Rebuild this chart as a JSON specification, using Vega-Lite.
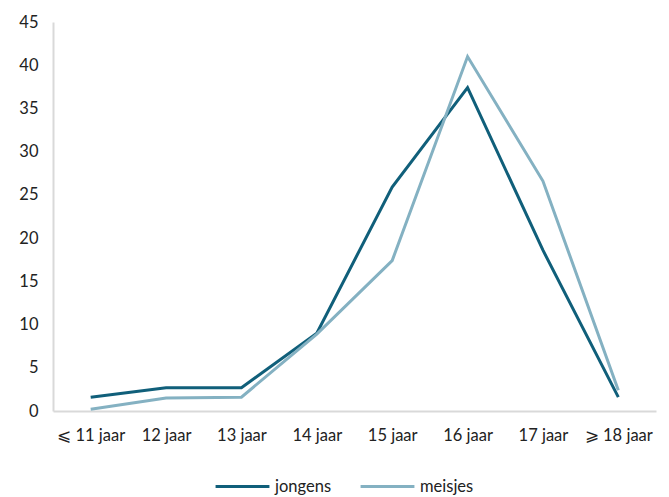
{
  "$schema": "https://vega.github.io/schema/vega-lite/v6.json",
  "width": 603,
  "height": 389,
  "autosize": {"type": "none"},
  "padding": {"left": 53, "top": 22, "right": 13, "bottom": 86},
  "background": "white",
  "config": {
    "view": {"stroke": null},
    "font": "Lato",
    "axis": {"grid": false, "ticks": false, "domainColor": "#d9d9d9", "domainWidth": 2, "labelFontSize": 16.5, "labelColor": "#222222", "title": null},
    "legend": {"labelFontSize": 16.5, "labelColor": "#222222"}
  },
  "data": {"values": [
    {"leeftijd": "⩽ 11 jaar", "groep": "jongens", "waarde": 1.6},
    {"leeftijd": "12 jaar", "groep": "jongens", "waarde": 2.7},
    {"leeftijd": "13 jaar", "groep": "jongens", "waarde": 2.7},
    {"leeftijd": "14 jaar", "groep": "jongens", "waarde": 9.0},
    {"leeftijd": "15 jaar", "groep": "jongens", "waarde": 25.9},
    {"leeftijd": "16 jaar", "groep": "jongens", "waarde": 37.4},
    {"leeftijd": "17 jaar", "groep": "jongens", "waarde": 18.6},
    {"leeftijd": "⩾ 18 jaar", "groep": "jongens", "waarde": 1.6},
    {"leeftijd": "⩽ 11 jaar", "groep": "meisjes", "waarde": 0.2},
    {"leeftijd": "12 jaar", "groep": "meisjes", "waarde": 1.5},
    {"leeftijd": "13 jaar", "groep": "meisjes", "waarde": 1.6},
    {"leeftijd": "14 jaar", "groep": "meisjes", "waarde": 8.9},
    {"leeftijd": "15 jaar", "groep": "meisjes", "waarde": 17.4},
    {"leeftijd": "16 jaar", "groep": "meisjes", "waarde": 41.0},
    {"leeftijd": "17 jaar", "groep": "meisjes", "waarde": 26.6},
    {"leeftijd": "⩾ 18 jaar", "groep": "meisjes", "waarde": 2.4}
  ]},
  "mark": {"type": "line", "strokeWidth": 3, "strokeJoin": "miter"},
  "encoding": {
    "x": {"field": "leeftijd", "type": "ordinal", "sort": null,
      "scale": {"type": "point", "padding": 0.5},
      "axis": {"labelAngle": 0, "labelPadding": 16}},
    "y": {"field": "waarde", "type": "quantitative",
      "scale": {"domain": [0, 45], "nice": false},
      "axis": {"values": [0, 5, 10, 15, 20, 25, 30, 35, 40, 45], "labelPadding": 15}},
    "color": {"field": "groep", "type": "nominal",
      "scale": {"domain": ["jongens", "meisjes"], "range": ["#105f7a", "#84b1c2"]},
      "legend": {"title": null, "orient": "none", "legendX": 161, "legendY": 436, "direction": "horizontal", "symbolType": "stroke", "symbolStrokeWidth": 3, "symbolSize": 2900, "columnPadding": 22, "labelOffset": 4}}
  }
}
